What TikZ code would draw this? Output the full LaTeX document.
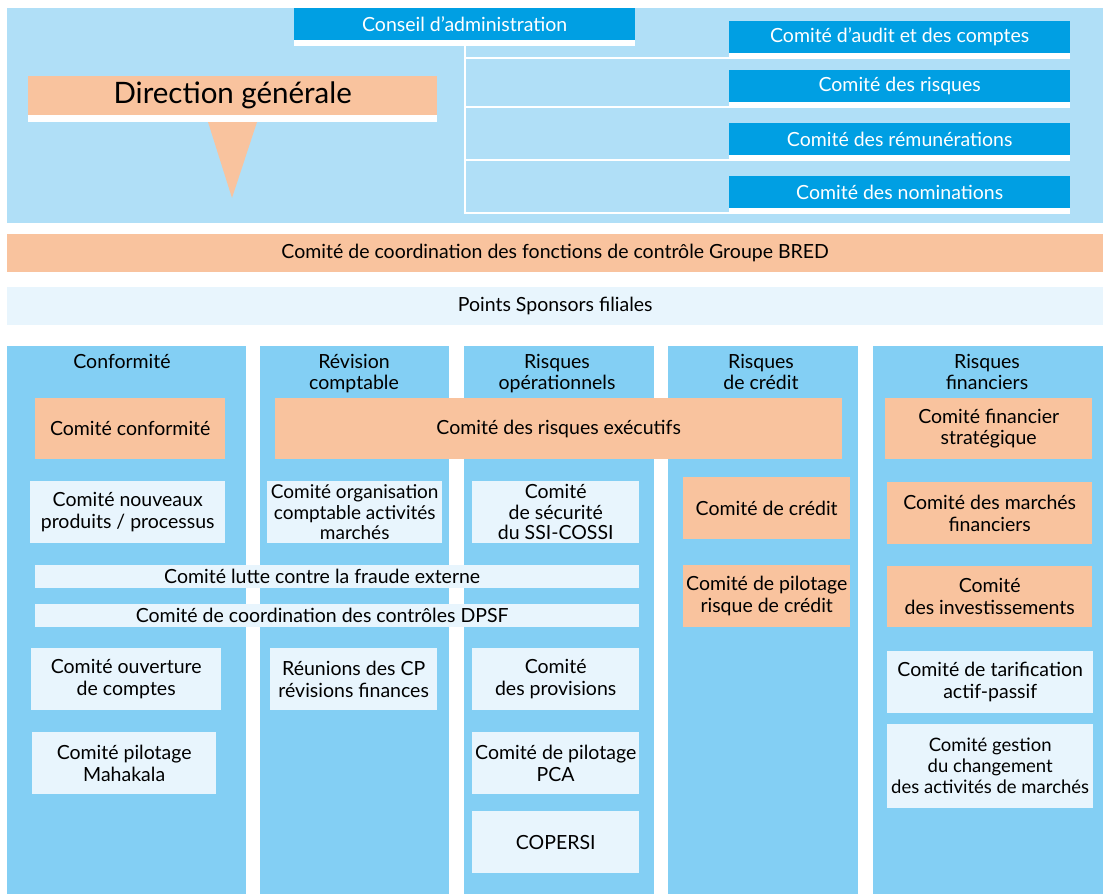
\documentclass[tikz,border=0pt]{standalone}
\usepackage{fontspec}
\setmainfont{Lato}
\definecolor{cpanel}{HTML}{B0DFF7}
\definecolor{cspalte}{HTML}{83CFF4}
\definecolor{cblau}{HTML}{009FE3}
\definecolor{cpeach}{HTML}{F9C39E}
\definecolor{chell}{HTML}{E8F5FD}
\tikzset{
  box/.style={anchor=north west, inner sep=0pt, align=center, font=\fontsize{19.5}{21.5}\selectfont},
  blaubox/.style={box, fill=cblau, text=white},
  peachbox/.style={box, fill=cpeach},
  hellbox/.style={box, fill=chell},
  kopf/.style={anchor=north, align=center, inner sep=0pt, font=\fontsize{19.5}{21.5}\selectfont},
  ast/.style={draw=white, line width=2pt},
}
\begin{document}
\begin{tikzpicture}[x=1pt, y=-1pt]
	\useasboundingbox (0,0) rectangle (1103,894);
	\fill[white] (0,0) rectangle (1103,894); % Weisser Hintergrund
	
	% oberer Block
	\fill[cpanel] (7,8) rectangle (1103,223);
	\node[blaubox, minimum width=341pt, minimum height=32pt] (cons) at (294,8) {Conseil d’administration};
	\fill[white] (cons.south west) rectangle ([yshift=-6pt]cons.south east);
	\coordinate (stamm) at ([yshift=-6pt]cons.south);
	
	\node[blaubox, minimum width=341pt, minimum height=32pt] (audit) at (729,21) {Comité d’audit et des comptes};
	\node[blaubox, minimum width=341pt, minimum height=32pt] (risq) at (729,70) {Comité des risques};
	\node[blaubox, minimum width=341pt, minimum height=32pt] (remu) at (729,123) {Comité des rémunérations};
	\node[blaubox, minimum width=341pt, minimum height=32pt] (nomi) at (729,176) {Comité des nominations};
	\foreach \k in {audit, risq, remu, nomi} {
		\fill[white] (\k.south west) rectangle ([yshift=-6pt]\k.south east);
		\draw[ast] (stamm) |- ([yshift=-5pt]\k.south west);
	}
	
	\node[peachbox, minimum width=409pt, minimum height=39pt, font=\fontsize{29.5}{32}\selectfont] (dg) at (28,76) {Direction générale};
	\fill[white] (dg.south west) rectangle ([yshift=-7pt]dg.south east);
	\fill[cpeach] (208,122) -- (257,122) -- (232,198) -- cycle;
	
	% Baender
	\node[peachbox, minimum width=1096pt, minimum height=38pt] (ccfc) at (7,234) {Comité de coordination des fonctions de contrôle Groupe BRED};
	\node[hellbox, minimum width=1096pt, minimum height=38pt] (spons) at (7,287) {Points Sponsors filiales};
	
	% Spalten
	\fill[cspalte] (7,346) rectangle (246,894);
	\fill[cspalte] (260,346) rectangle (449,894);
	\fill[cspalte] (464,346) rectangle (654,894);
	\fill[cspalte] (668,346) rectangle (858,894);
	\fill[cspalte] (873,346) rectangle (1103,894);
	\node[kopf] (h1) at (122,354) {Conformité};
	\node[kopf] (h2) at (354,354) {Révision\\comptable};
	\node[kopf] (h3) at (557,354) {Risques\\opérationnels};
	\node[kopf] (h4) at (761,354) {Risques\\de crédit};
	\node[kopf] (h5) at (987,354) {Risques\\financiers};
	
	% Conformite
	\node[peachbox, minimum width=190pt, minimum height=61pt] (konf) at (35,398) {Comité conformité};
	\node[hellbox, minimum width=195pt, minimum height=62pt] (nouv) at (30,481) {Comité nouveaux\\produits / processus};
	\node[hellbox, minimum width=190pt, minimum height=62pt] (ouv) at (31,648) {Comité ouverture\\de comptes};
	\node[hellbox, minimum width=184pt, minimum height=62pt] (maha) at (32,732) {Comité pilotage\\Mahakala};
	
	% durchgehende Streifen
	\node[hellbox, minimum width=604pt, minimum height=23pt] (fraude) at (35,565) {Comité lutte contre la fraude externe\hspace*{30pt}};
	\node[hellbox, minimum width=604pt, minimum height=23pt] (dpsf) at (35,604) {Comité de coordination des contrôles DPSF\hspace*{30pt}};
	
	% Revision comptable
	\node[hellbox, minimum width=175pt, minimum height=62pt, font=\fontsize{19}{20.5}\selectfont] (orga) at (267,481) {Comité organisation\\comptable activités\\marchés};
	\node[hellbox, minimum width=167pt, minimum height=62pt] (reun) at (270,648) {Réunions des CP\\révisions finances};
	
	% Risques operationnels
	\node[peachbox, minimum width=567pt, minimum height=61pt] (exec) at (275,398) {Comité des risques exécutifs};
	\node[hellbox, minimum width=167pt, minimum height=62pt, font=\fontsize{19.5}{20.5}\selectfont] (ssi) at (472,481) {Comité\\de sécurité\\du SSI-COSSI};
	\node[hellbox, minimum width=167pt, minimum height=62pt] (prov) at (472,648) {Comité\\des provisions};
	\node[hellbox, minimum width=167pt, minimum height=62pt] (pca) at (472,732) {Comité de pilotage\\PCA};
	\node[hellbox, minimum width=167pt, minimum height=62pt] (cop) at (472,811) {COPERSI};
	
	% Risques de credit
	\node[peachbox, minimum width=167pt, minimum height=62pt] (cred) at (683,477) {Comité de crédit};
	\node[peachbox, minimum width=167pt, minimum height=62pt] (pilc) at (683,565) {Comité de pilotage\\risque de crédit};
	
	% Risques financiers
	\node[peachbox, minimum width=207pt, minimum height=61pt] (fstrat) at (885,398) {Comité financier\\stratégique};
	\node[peachbox, minimum width=205pt, minimum height=62pt] (marf) at (887,482) {Comité des marchés\\financiers};
	\node[peachbox, minimum width=205pt, minimum height=61pt] (inv) at (887,566) {Comité\\des investissements};
	\node[hellbox, minimum width=206pt, minimum height=62pt] (tarif) at (887,651) {Comité de tarification\\actif-passif};
	\node[hellbox, minimum width=206pt, minimum height=84pt, font=\fontsize{18.5}{21}\selectfont] (gest) at (887,724) {Comité gestion\\du changement\\des activités de marchés};
\end{tikzpicture}
\end{document}
